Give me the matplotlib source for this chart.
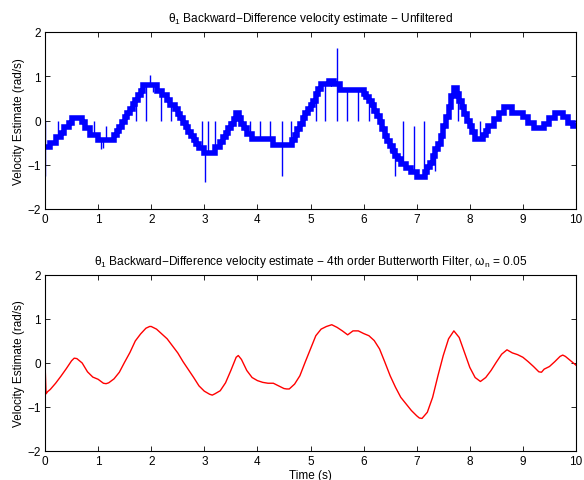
import numpy as np
import matplotlib
matplotlib.use("Agg")
import matplotlib.pyplot as plt

plt.rcParams['font.family'] = ['Liberation Sans', 'DejaVu Sans']
plt.rcParams['mathtext.fontset'] = 'custom'
plt.rcParams['mathtext.rm'] = 'Liberation Sans'
plt.rcParams['mathtext.it'] = 'Liberation Sans:italic'
plt.rcParams['mathtext.default'] = 'rm'

# ---- Unfiltered (quantized staircase) : step start times and levels ----
step_t = [0.00, 0.10, 0.20, 0.30, 0.35, 0.45, 0.50, 0.70, 0.75, 0.85,
          1.00, 1.30, 1.35, 1.40, 1.45, 1.50, 1.55, 1.60, 1.65, 1.70,
          1.75, 1.80, 1.85, 2.10, 2.20, 2.30, 2.35, 2.45, 2.50, 2.55,
          2.60, 2.65, 2.70, 2.75, 2.80, 2.85, 2.90, 3.00, 3.20, 3.30,
          3.35, 3.40, 3.45, 3.50, 3.55, 3.60, 3.65, 3.70, 3.75, 3.80,
          3.90, 4.30, 4.65, 4.70, 4.75, 4.80, 4.85, 4.90, 4.95, 5.00,
          5.05, 5.10, 5.15, 5.20, 5.35, 5.45, 5.55, 6.00, 6.05, 6.10,
          6.15, 6.20, 6.25, 6.30, 6.35, 6.40, 6.45, 6.50, 6.55, 6.60,
          6.65, 6.70, 6.80, 6.90, 7.00, 7.15, 7.20, 7.25, 7.30, 7.35,
          7.40, 7.45, 7.50, 7.55, 7.60, 7.65, 7.70, 7.75, 7.80, 7.85,
          7.90, 7.95, 8.00, 8.05, 8.10, 8.25, 8.30, 8.35, 8.45, 8.55,
          8.65, 8.80, 9.00, 9.10, 9.20, 9.40, 9.50, 9.60, 9.75, 9.85,
          9.95, 10.00]
step_v = [-0.60, -0.50, -0.38, -0.28, -0.15, -0.05, 0.06, -0.04, -0.18, -0.32,
          -0.43, -0.33, -0.23, -0.14, -0.04, 0.07, 0.17, 0.26, 0.37, 0.47,
          0.58, 0.67, 0.80, 0.67, 0.58, 0.47, 0.36, 0.26, 0.15, 0.05,
          -0.06, -0.15, -0.25, -0.34, -0.44, -0.53, -0.62, -0.74, -0.60, -0.49,
          -0.38, -0.28, -0.18, -0.08, 0.03, 0.17, 0.05, -0.08, -0.18, -0.30,
          -0.42, -0.55, -0.44, -0.32, -0.20, -0.08, 0.05, 0.17, 0.27, 0.35,
          0.45, 0.60, 0.72, 0.82, 0.90, 0.82, 0.70, 0.60, 0.52, 0.45,
          0.34, 0.22, 0.11, -0.04, -0.19, -0.34, -0.46, -0.57, -0.68, -0.80,
          -0.88, -0.98, -1.08, -1.17, -1.28, -1.17, -1.06, -0.95, -0.80, -0.65,
          -0.53, -0.34, -0.12, 0.09, 0.30, 0.56, 0.74, 0.60, 0.45, 0.30,
          0.15, 0.00, -0.13, -0.27, -0.42, -0.33, -0.23, -0.12, 0.03, 0.18,
          0.30, 0.18, 0.07, -0.06, -0.18, -0.08, 0.05, 0.18, 0.07, -0.06,
          -0.12, -0.12]

# spikes in the unfiltered estimate: time and tip value
spike_t = [0.00, 0.00, 0.25, 0.75, 0.93, 1.05, 1.10, 1.14, 1.71, 1.90, 1.98,
           2.04, 2.18, 2.37, 2.95, 3.01, 3.07, 3.20, 3.48, 3.86, 4.04,
           4.24, 4.47, 4.47, 4.64, 5.10, 5.27, 5.49, 5.49, 5.68, 5.90,
           6.11, 6.50, 6.59, 6.75, 6.95, 7.14, 7.34, 7.56, 7.78, 8.19]
spike_v = [-1.25, 0.00, 0.00, 0.00, 0.00, -0.64, -0.62, -0.12, 0.00, 0.00, 1.02,
           0.64, 0.00, 0.00, 0.00, -1.38, 0.00, 0.00, 0.00, 0.00, 0.00,
           0.00, -1.25, 0.00, 0.00, 0.00, 0.00, 1.63, 0.00, 0.00, 0.00,
           0.00, -0.72, -1.25, 0.00, -0.12, 0.00, -1.13, 0.00, 0.00, 0.00]

# ---- Butterworth filtered estimate ----
filt_t = [0.00, 0.02, 0.05, 0.10, 0.20, 0.30, 0.40, 0.50, 0.55, 0.60,
          0.70, 0.80, 0.90, 1.00, 1.10, 1.15, 1.20, 1.30, 1.40, 1.50,
          1.60, 1.70, 1.80, 1.90, 1.97, 2.00, 2.10, 2.20, 2.30, 2.40,
          2.50, 2.60, 2.70, 2.80, 2.90, 3.00, 3.10, 3.15, 3.20, 3.30,
          3.40, 3.50, 3.60, 3.64, 3.70, 3.80, 3.90, 4.00, 4.10, 4.20,
          4.30, 4.40, 4.50, 4.55, 4.60, 4.70, 4.80, 4.90, 5.00, 5.10,
          5.20, 5.30, 5.40, 5.50, 5.60, 5.70, 5.80, 5.90, 6.00, 6.10,
          6.20, 6.30, 6.40, 6.50, 6.60, 6.70, 6.80, 6.90, 7.00, 7.05,
          7.10, 7.20, 7.30, 7.40, 7.50, 7.60, 7.70, 7.80, 7.90, 8.00,
          8.10, 8.20, 8.30, 8.40, 8.50, 8.60, 8.70, 8.80, 8.90, 9.00,
          9.10, 9.20, 9.30, 9.35, 9.40, 9.50, 9.60, 9.70, 9.75, 9.80,
          9.90, 10.00]
filt_v = [0.00, -0.70, -0.65, -0.60, -0.46, -0.30, -0.13, 0.05, 0.11, 0.10,
          0.00, -0.20, -0.32, -0.37, -0.46, -0.47, -0.45, -0.36, -0.21, 0.02,
          0.24, 0.50, 0.66, 0.79, 0.83, 0.83, 0.77, 0.66, 0.55, 0.39,
          0.23, 0.03, -0.15, -0.33, -0.52, -0.64, -0.71, -0.73, -0.70, -0.63,
          -0.45, -0.17, 0.13, 0.17, 0.08, -0.17, -0.33, -0.40, -0.44, -0.46,
          -0.46, -0.52, -0.58, -0.59, -0.59, -0.48, -0.29, 0.02, 0.32, 0.62,
          0.77, 0.83, 0.87, 0.81, 0.73, 0.64, 0.73, 0.73, 0.67, 0.62,
          0.51, 0.32, 0.02, -0.29, -0.55, -0.78, -0.93, -1.08, -1.20, -1.25,
          -1.26, -1.12, -0.78, -0.29, 0.17, 0.55, 0.73, 0.58, 0.24, -0.10,
          -0.33, -0.42, -0.33, -0.17, 0.02, 0.20, 0.30, 0.23, 0.19, 0.13,
          0.03, -0.08, -0.20, -0.21, -0.14, -0.08, 0.03, 0.15, 0.18, 0.15,
          0.05, -0.05]

x_ticks = [0, 1, 2, 3, 4, 5, 6, 7, 8, 9, 10]
y_ticks = [-2, -1, 0, 1, 2]

title_top = r'$\mathrm{θ}_{1}$ Backward−Difference velocity estimate − Unfiltered'
title_bot = (r'$\mathrm{θ}_{1}$ Backward−Difference velocity estimate − 4th order '
             r'Butterworth Filter, $\mathrm{ω}_{\mathrm{n}}$ = 0.05')

fig = plt.figure(figsize=(5.84, 4.81), dpi=100)
ax1 = fig.add_axes([45/584, 1-210/481, 531/584, 177/481])
ax2 = fig.add_axes([45/584, 1-452/481, 531/584, 176/481])


def style(ax):
    ax.set_xlim(0, 10)
    ax.set_ylim(-2, 2)
    ax.set_xticks(x_ticks)
    ax.set_yticks(y_ticks)
    ax.tick_params(direction='in', top=True, right=True, length=3.5,
                   width=0.6, labelsize=8.5, pad=3)
    for s in ax.spines.values():
        s.set_linewidth(0.8)
    ax.set_ylabel('Velocity Estimate (rad/s)', fontsize=8.5, labelpad=2)


# top panel
st = np.array(step_t)
sv = np.array(step_v)
ax1.plot(st, sv, drawstyle='steps-post', color='#0000ff', lw=4.0,
         solid_capstyle='butt', solid_joinstyle='miter')
idx = np.searchsorted(st, np.array(spike_t), side='right') - 1
idx = np.clip(idx, 0, len(sv) - 1)
ax1.vlines(spike_t, sv[idx], spike_v, color='#0000ff', lw=1.0)
style(ax1)
ax1.set_title(title_top, fontsize=8.6, pad=8)

# bottom panel
ax2.plot(filt_t, filt_v, color='#ff0000', lw=1.0)
style(ax2)
ax2.set_title(title_bot, fontsize=8.6, pad=8)
ax2.set_xlabel('Time (s)', fontsize=8.5, labelpad=1)

fig.savefig('out.png', dpi=100)
